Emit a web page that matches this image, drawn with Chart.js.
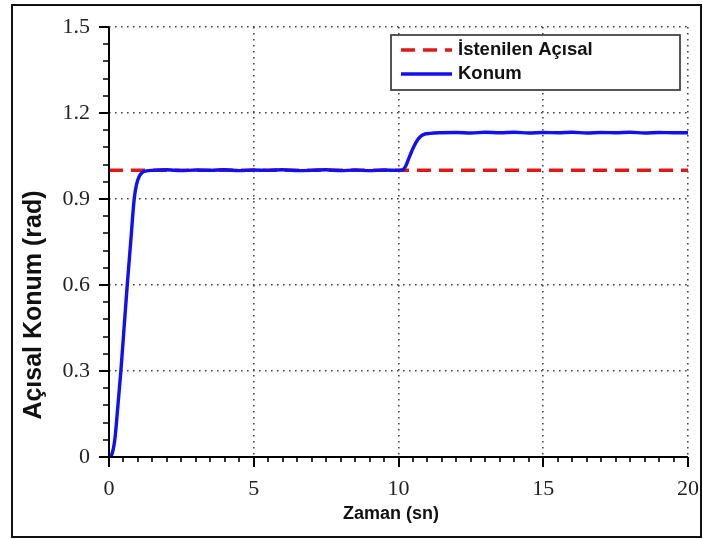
<!DOCTYPE html>
<html>
<head>
<meta charset="utf-8">
<script src="https://cdn.jsdelivr.net/npm/chart.js@4/dist/chart.umd.min.js"></script>
<style>
html,body{margin:0;padding:0;background:#fff;}
#wrap{width:703px;height:539px;position:relative;}
</style>
</head>
<body>
<div id="wrap"><canvas id="c" width="703" height="539"></canvas></div>
<script>
// ---- data ----
const timeSec = [0,0.1,0.2,0.3,0.41,0.52,0.63,0.75,0.87,0.95,1.05,1.15,1.3,1.5,2,2.5,3,3.5,4,4.5,5,5.5,6,6.5,7,7.5,8,8.5,9,9.5,10,10.15,10.25,10.35,10.45,10.6,10.75,10.9,11.1,11.4,12,12.5,13,13.5,14,14.5,15,15.5,16,16.5,17,17.5,18,18.5,19,19.5,20];
const konum   = [0,0.01,0.06,0.17,0.3,0.45,0.6,0.75,0.9,0.95,0.98,0.993,0.998,1.0,1.002,0.999,1.001,1.0,1.002,0.999,1.001,1.0,1.002,0.999,1.0,1.002,0.999,1.001,0.999,1.001,1.0,1.002,1.015,1.04,1.065,1.097,1.117,1.126,1.129,1.131,1.132,1.13,1.133,1.131,1.133,1.13,1.132,1.131,1.133,1.13,1.132,1.131,1.133,1.13,1.132,1.131,1.131];
const refTime = [0, 20];
const refValue = [1.0, 1.0];
const xTicks = [0, 5, 10, 15, 20];
const yTicks = [0, 0.3, 0.6, 0.9, 1.2, 1.5];
const labelRef = 'İstenilen Açısal';
const labelKonum = 'Konum';
const xTitle = 'Zaman (sn)';
const yTitle = 'Açısal Konum (rad)';

const konumPts = timeSec.map((t,i)=>({x:t,y:konum[i]}));
const refPts = refTime.map((t,i)=>({x:t,y:refValue[i]}));

const decor = {
  id:'decor',
  beforeDraw(chart){
    const ctx = chart.ctx;
    ctx.save();
    ctx.fillStyle = '#fff';
    ctx.fillRect(0,0,chart.width,chart.height);
    ctx.restore();
  },
  afterDraw(chart){
    const ctx = chart.ctx;
    const xs = chart.scales.x, ys = chart.scales.y;
    const ca = chart.chartArea;
    ctx.save();
    // outer frame
    ctx.strokeStyle = '#111';
    ctx.lineWidth = 2;
    ctx.strokeRect(12, 5, 689, 532);
    // axes
    ctx.strokeStyle = '#000';
    ctx.lineWidth = 2;
    ctx.beginPath();
    ctx.moveTo(ca.left, ca.top); ctx.lineTo(ca.left, ca.bottom + 10);
    ctx.moveTo(ca.left - 10, ca.bottom); ctx.lineTo(ca.right, ca.bottom);
    ctx.stroke();
    // major ticks
    ctx.beginPath();
    xTicks.forEach(v=>{const p=Math.round(xs.getPixelForValue(v)); ctx.moveTo(p, ca.bottom); ctx.lineTo(p, ca.bottom+10);});
    yTicks.forEach(v=>{const p=Math.round(ys.getPixelForValue(v)); ctx.moveTo(ca.left-10, p); ctx.lineTo(ca.left, p);});
    ctx.stroke();
    // minor ticks
    ctx.lineWidth = 1.6;
    ctx.beginPath();
    for(let k=0;k<=40;k++){ if(k%10===0) continue; const p=Math.round(xs.getPixelForValue(k*0.5)); ctx.moveTo(p, ca.bottom); ctx.lineTo(p, ca.bottom+5);}
    for(let k=0;k<=25;k++){ if(k%5===0) continue; const p=Math.round(ys.getPixelForValue(k*0.06)); ctx.moveTo(ca.left-6, p); ctx.lineTo(ca.left, p);}
    ctx.stroke();
    // titles
    ctx.fillStyle = '#111';
    ctx.font = 'bold 18px "Liberation Sans", Arial, sans-serif';
    ctx.textAlign = 'center';
    ctx.textBaseline = 'middle';
    ctx.fillText(xTitle, 391, 514);
    ctx.save();
    ctx.translate(34, 305);
    ctx.rotate(-Math.PI/2);
    ctx.font = 'bold 25px "Liberation Sans", Arial, sans-serif';
    ctx.fillText(yTitle, 0, 0);
    ctx.restore();
    // legend
    const lx = 391, ly = 35, lw = 289, lh = 55;
    ctx.fillStyle = '#fff';
    ctx.fillRect(lx, ly, lw, lh);
    ctx.strokeStyle = '#444';
    ctx.lineWidth = 1.8;
    ctx.strokeRect(lx, ly, lw, lh);
    const ds = chart.data.datasets;
    const rows = [ds[1], ds[0]];
    rows.forEach((d,i)=>{
      const y = ly + 15 + i*24;
      ctx.strokeStyle = d.borderColor;
      ctx.lineWidth = d.borderWidth;
      ctx.setLineDash(d.borderDash || []);
      ctx.beginPath(); ctx.moveTo(401, y); ctx.lineTo(452, y); ctx.stroke();
      ctx.setLineDash([]);
      ctx.fillStyle = '#111';
      ctx.textAlign = 'left';
      ctx.font = 'bold 18.5px "Liberation Sans", Arial, sans-serif';
      ctx.fillText(d.label, 458, y);
    });
    ctx.restore();
  }
};

const zeroPad = s => { s.paddingLeft = 0; s.paddingRight = 0; s.paddingTop = 0; s.paddingBottom = 0; };

new Chart(document.getElementById('c'), {
  type: 'line',
  data: {
    datasets: [
      { label: labelKonum, data: konumPts, borderColor: '#1010f0', borderWidth: 3.4, pointRadius: 0, cubicInterpolationMode: 'monotone', order: 0 },
      { label: labelRef, data: refPts, borderColor: '#e01818', borderWidth: 3.5, borderDash: [14, 8], pointRadius: 0, order: 1 }
    ]
  },
  options: {
    responsive: false,
    animation: false,
    layout: { padding: { left: 0, right: 15, top: 27, bottom: 0 } },
    plugins: { legend: { display: false }, tooltip: { enabled: false } },
    scales: {
      x: {
        type: 'linear', min: 0, max: 20,
        afterFit: s => { s.height = 82; zeroPad(s); },
        afterBuildTicks: s => { s.ticks = xTicks.map(v=>({value:v})); },
        ticks: { padding: 19, color: '#222', font: { family: '"Liberation Serif", "Times New Roman", serif', size: 22 } },
        grid: { drawTicks: false, color: '#444', lineWidth: 1.6 },
        border: { display: false, dash: [1.6, 4.4] }
      },
      y: {
        type: 'linear', min: 0, max: 1.5,
        afterFit: s => { s.width = 109; zeroPad(s); },
        afterBuildTicks: s => { s.ticks = yTicks.map(v=>({value:v})); },
        ticks: { padding: 19, color: '#222', font: { family: '"Liberation Serif", "Times New Roman", serif', size: 22 }, callback: v => String(Math.round(v*10)/10) },
        grid: { drawTicks: false, color: '#444', lineWidth: 1.6 },
        border: { display: false, dash: [1.6, 4.4] }
      }
    }
  },
  plugins: [decor]
});
</script>
</body>
</html>
